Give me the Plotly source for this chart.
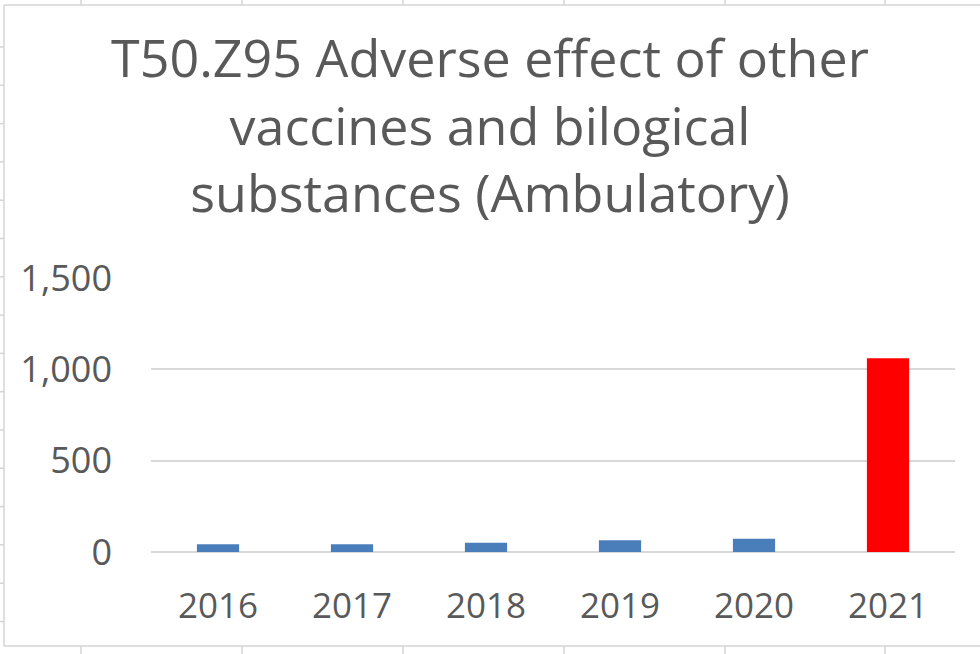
import plotly.graph_objects as go

years = ["2016", "2017", "2018", "2019", "2020", "2021"]
cases = [42, 42, 51, 64, 73, 1060]
y_ticks = [0, 500, 1000, 1500]

blue = "#4a7ebb"
red = "#ff0000"
bar_colors = [blue] * 5 + [red]
text_grey = "#595959"

W, H = 980, 654
L, R, T, B = 151, 25, 278, 102


# pixel -> paper helpers for the spreadsheet frame decoration
def px(x):
    return (x - L) / (W - L - R)


def py(y):
    return (H - B - y) / (H - T - B)


fig = go.Figure()

fig.add_trace(go.Bar(
    x=years, y=cases,
    width=0.315,
    marker=dict(color=bar_colors, line=dict(width=0)),
    hoverinfo="x+y",
    showlegend=False,
))

# frame of the chart object and the sheet grid peeking around it
frame = "#d4d4d4"
shapes = [
    dict(type="line", x0=px(4), x1=px(980), y0=py(5), y1=py(5)),
    dict(type="line", x0=px(4), x1=px(4), y0=py(5), y1=py(646)),
    dict(type="line", x0=px(4), x1=px(980), y0=py(646), y1=py(646)),
]
for cx in [81, 242, 403, 564, 725, 885]:
    shapes.append(dict(type="line", x0=px(cx), x1=px(cx), y0=py(0), y1=py(5)))
    shapes.append(dict(type="line", x0=px(cx), x1=px(cx), y0=py(646), y1=py(654)))
for k in range(16):
    ry = 47 + 38.3 * k
    shapes.append(dict(type="line", x0=px(0), x1=px(4), y0=py(ry), y1=py(ry)))
for s in shapes:
    s.update(xref="paper", yref="paper", line=dict(color=frame, width=1.5), layer="above")

fig.update_layout(
    width=W, height=H,
    margin=dict(l=L, r=R, t=T, b=B),
    paper_bgcolor="white",
    plot_bgcolor="white",
    font=dict(family="Open Sans", color=text_grey),
    title=dict(
        text="T50.Z95 Adverse effect of other<br>vaccines and bilogical<br>substances (Ambulatory)",
        font=dict(family="Open Sans", size=52, color=text_grey),
        x=0.5, xanchor="center",
        y=1 - 77 / H, yanchor="middle", yref="container",
    ),
    xaxis=dict(
        type="category",
        showgrid=False, showline=False, zeroline=False,
        ticks="", ticklabelstandoff=30,
        tickfont=dict(family="Open Sans", size=35, color=text_grey),
    ),
    yaxis=dict(
        range=[0, 1500],
        tickvals=y_ticks,
        tickformat=",",
        showgrid=True, gridcolor="#d9d9d9", gridwidth=1.5,
        zeroline=True, zerolinecolor="#d9d9d9", zerolinewidth=1.5,
        showline=False, ticks="", ticklabelstandoff=38,
        tickfont=dict(family="Open Sans", size=36, color=text_grey),
    ),
    bargap=0.685,
    shapes=shapes,
)

# the page is shown edge to edge, so drop the default body margin
fig.write_html(
    "out.html",
    config={"displayModeBar": False},
    post_script="document.body.style.margin='0';",
)
